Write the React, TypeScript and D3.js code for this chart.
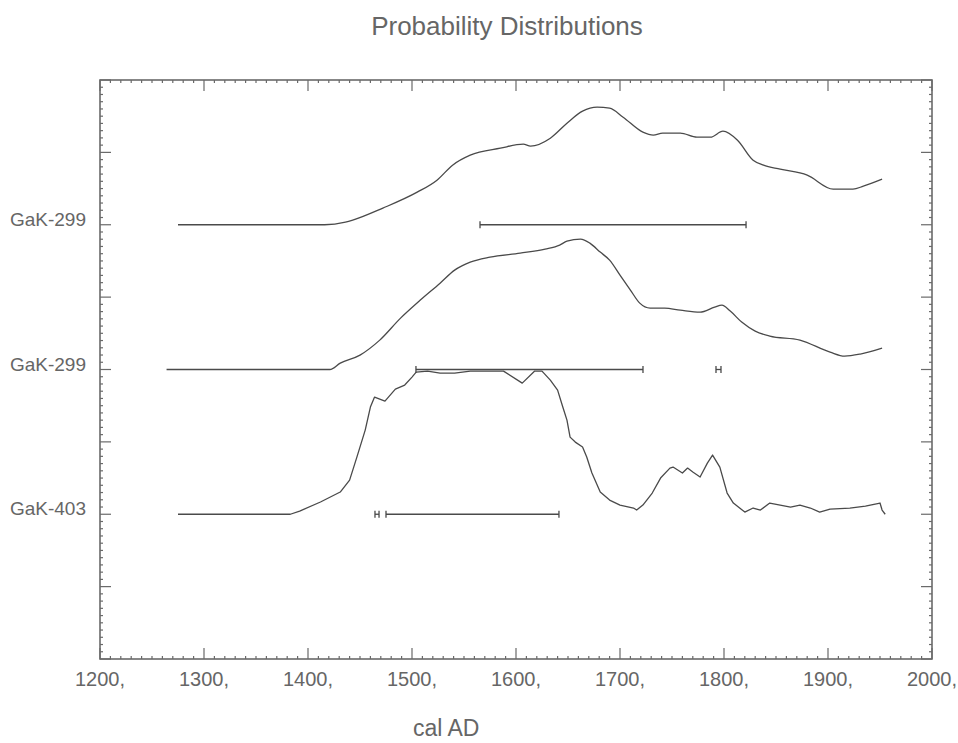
import React from "react";
import * as d3 from "d3";

// ---- Data ----
const xTickValues = [1200, 1300, 1400, 1500, 1600, 1700, 1800, 1900, 2000];
const xTickLabels = ["1200,", "1300,", "1400,", "1500,", "1600,", "1700,", "1800,", "1900,", "2000,"];
const sampleLabels = ["GaK-299", "GaK-299", "GaK-403"];
const sampleOffsets = [6, 4, 2];

const curve1Years = [1275, 1416, 1436, 1443, 1472, 1505, 1524, 1539, 1556, 1585, 1607, 1614, 1633, 1649, 1664, 1678, 1690, 1703, 1722, 1732, 1741, 1758, 1774, 1787, 1799, 1813, 1828, 1838, 1854, 1880, 1905, 1924, 1934, 1952];
const curve1Density = [0, 0, 0.036, 0.064, 0.23, 0.45, 0.616, 0.823, 0.961, 1.058, 1.113, 1.086, 1.196, 1.403, 1.569, 1.624, 1.61, 1.486, 1.279, 1.238, 1.265, 1.265, 1.21, 1.21, 1.293, 1.168, 0.892, 0.823, 0.768, 0.685, 0.492, 0.492, 0.533, 0.63];

const curve2Years = [1264, 1421, 1431, 1450, 1469, 1489, 1508, 1527, 1541, 1556, 1575, 1604, 1628, 1642, 1649, 1662, 1671, 1681, 1690, 1700, 1710, 1719, 1729, 1743, 1758, 1777, 1791, 1798, 1806, 1817, 1830, 1844, 1873, 1902, 1916, 1931, 1952];
const curve2Density = [0, 0, 0.088, 0.199, 0.406, 0.71, 0.959, 1.193, 1.373, 1.483, 1.552, 1.608, 1.663, 1.718, 1.773, 1.801, 1.746, 1.622, 1.511, 1.304, 1.097, 0.917, 0.848, 0.848, 0.82, 0.793, 0.862, 0.89, 0.807, 0.655, 0.53, 0.461, 0.406, 0.24, 0.185, 0.213, 0.296];

const curve3Years = [1275, 1383, 1392, 1412, 1431, 1440, 1447, 1455, 1460, 1464, 1474, 1484, 1493, 1500, 1504, 1515, 1527, 1541, 1556, 1588, 1606, 1618, 1625, 1633, 1640, 1645, 1649, 1652, 1657, 1664, 1668, 1673, 1681, 1690, 1700, 1713, 1716, 1722, 1731, 1739, 1748, 1751, 1760, 1765, 1770, 1777, 1784, 1789, 1796, 1803, 1809, 1820, 1828, 1835, 1844, 1854, 1864, 1873, 1883, 1892, 1902, 1921, 1936, 1950, 1952, 1955];
const curve3Density = [0, 0, 0.044, 0.169, 0.307, 0.472, 0.79, 1.163, 1.481, 1.619, 1.564, 1.729, 1.785, 1.895, 1.964, 1.978, 1.95, 1.95, 1.978, 1.978, 1.812, 1.978, 1.978, 1.853, 1.715, 1.481, 1.301, 1.066, 0.997, 0.928, 0.79, 0.569, 0.306, 0.196, 0.127, 0.086, 0.058, 0.127, 0.293, 0.5, 0.638, 0.652, 0.569, 0.638, 0.583, 0.514, 0.707, 0.818, 0.652, 0.293, 0.155, 0.03, 0.086, 0.058, 0.155, 0.127, 0.099, 0.127, 0.086, 0.03, 0.072, 0.086, 0.113, 0.155, 0.058, 0];

const range1Starts = [1565.4];
const range1Ends = [1821.2];
const range2Starts = [1503.8, 1792.3];
const range2Ends = [1722.1, 1797.1];
const range3Starts = [1464.4, 1475];
const range3Ends = [1468.3, 1641.3];

// ---- Layout ----
const W = 958;
const H = 743;
const L = 100, R = 932, T = 80, B = 659;

const curves = [
  { years: curve1Years, dens: curve1Density, starts: range1Starts, ends: range1Ends, smooth: true },
  { years: curve2Years, dens: curve2Density, starts: range2Starts, ends: range2Ends, smooth: true },
  { years: curve3Years, dens: curve3Density, starts: range3Starts, ends: range3Ends, smooth: false },
];

const FONT = "'Liberation Sans', Arial, sans-serif";
const TEXT = "#666";
const AXIS = "#6a6a6a";
const LINE = "#4a4a4a";

export default function App() {
  const x = d3.scaleLinear().domain([1200, 2000]).range([L, R]);
  const y = d3.scaleLinear().domain([0, 8]).range([B, T]);

  const xMajor = xTickValues;
  const xMinor = x.ticks(80);
  const yMajor = y.ticks(8);
  const yMinor = y.ticks(80);

  const MAJ = 11, MIN = 3;

  return (
    <svg width={W} height={H} style={{ position: "absolute", left: 0, top: 0, background: "#fff" }}>
      <rect x={0} y={0} width={W} height={H} fill="#fff" />
      <text x={507} y={35} textAnchor="middle" fontFamily={FONT} fontSize={26} fill={TEXT}>
        Probability Distributions
      </text>

      {/* frame */}
      <rect x={L} y={T} width={R - L} height={B - T} fill="none" stroke={AXIS} strokeWidth={1.6} />

      {/* x ticks */}
      {xMinor.map((v) => {
        const isMaj = xMajor.includes(v);
        const len = isMaj ? MAJ : MIN;
        return (
          <g key={"xt" + v}>
            <line x1={x(v)} x2={x(v)} y1={B} y2={B - len} stroke={AXIS} strokeWidth={1.2} />
            <line x1={x(v)} x2={x(v)} y1={T} y2={T + len} stroke={AXIS} strokeWidth={1.2} />
          </g>
        );
      })}
      {/* y ticks */}
      {yMinor.map((v) => {
        const isMaj = yMajor.some((m) => Math.abs(m - v) < 1e-6);
        const len = isMaj ? MAJ : MIN;
        return (
          <g key={"yt" + v}>
            <line x1={L} x2={L + len} y1={y(v)} y2={y(v)} stroke={AXIS} strokeWidth={1.2} />
            <line x1={R} x2={R - len} y1={y(v)} y2={y(v)} stroke={AXIS} strokeWidth={1.2} />
          </g>
        );
      })}

      {/* x tick labels */}
      {xTickValues.map((v, i) => (
        <text key={"xl" + v} x={x(v)} y={686} textAnchor="middle" fontFamily={FONT} fontSize={20} fill={TEXT}>
          {xTickLabels[i]}
        </text>
      ))}
      <text x={413} y={736} fontFamily={FONT} fontSize={23} fill={TEXT}>cal AD</text>

      {/* sample labels */}
      {sampleLabels.map((s, i) => (
        <text key={"sl" + i} x={86} y={y(sampleOffsets[i]) + 1} textAnchor="end" fontFamily={FONT} fontSize={19} fill={TEXT}>
          {s}
        </text>
      ))}

      {/* curves and ranges */}
      {curves.map((c, i) => {
        const off = sampleOffsets[i];
        const pts = c.years.map((yr, k) => [yr, c.dens[k]] as [number, number]);
        const path = d3
          .line<[number, number]>()
          .x((d) => x(d[0]))
          .y((d) => y(off + d[1]))
          .curve(c.smooth ? d3.curveMonotoneX : d3.curveLinear)(pts);
        const by = y(off);
        return (
          <g key={"c" + i}>
            <path d={path || ""} fill="none" stroke={LINE} strokeWidth={1.3} strokeLinejoin="round" />
            {c.starts.map((s, k) => (
              <g key={"r" + k}>
                <line x1={x(s)} x2={x(c.ends[k])} y1={by} y2={by} stroke={LINE} strokeWidth={1.3} />
                <line x1={x(s)} x2={x(s)} y1={by - 3.5} y2={by + 3.5} stroke={LINE} strokeWidth={1.3} />
                <line x1={x(c.ends[k])} x2={x(c.ends[k])} y1={by - 3.5} y2={by + 3.5} stroke={LINE} strokeWidth={1.3} />
              </g>
            ))}
          </g>
        );
      })}
    </svg>
  );
}
